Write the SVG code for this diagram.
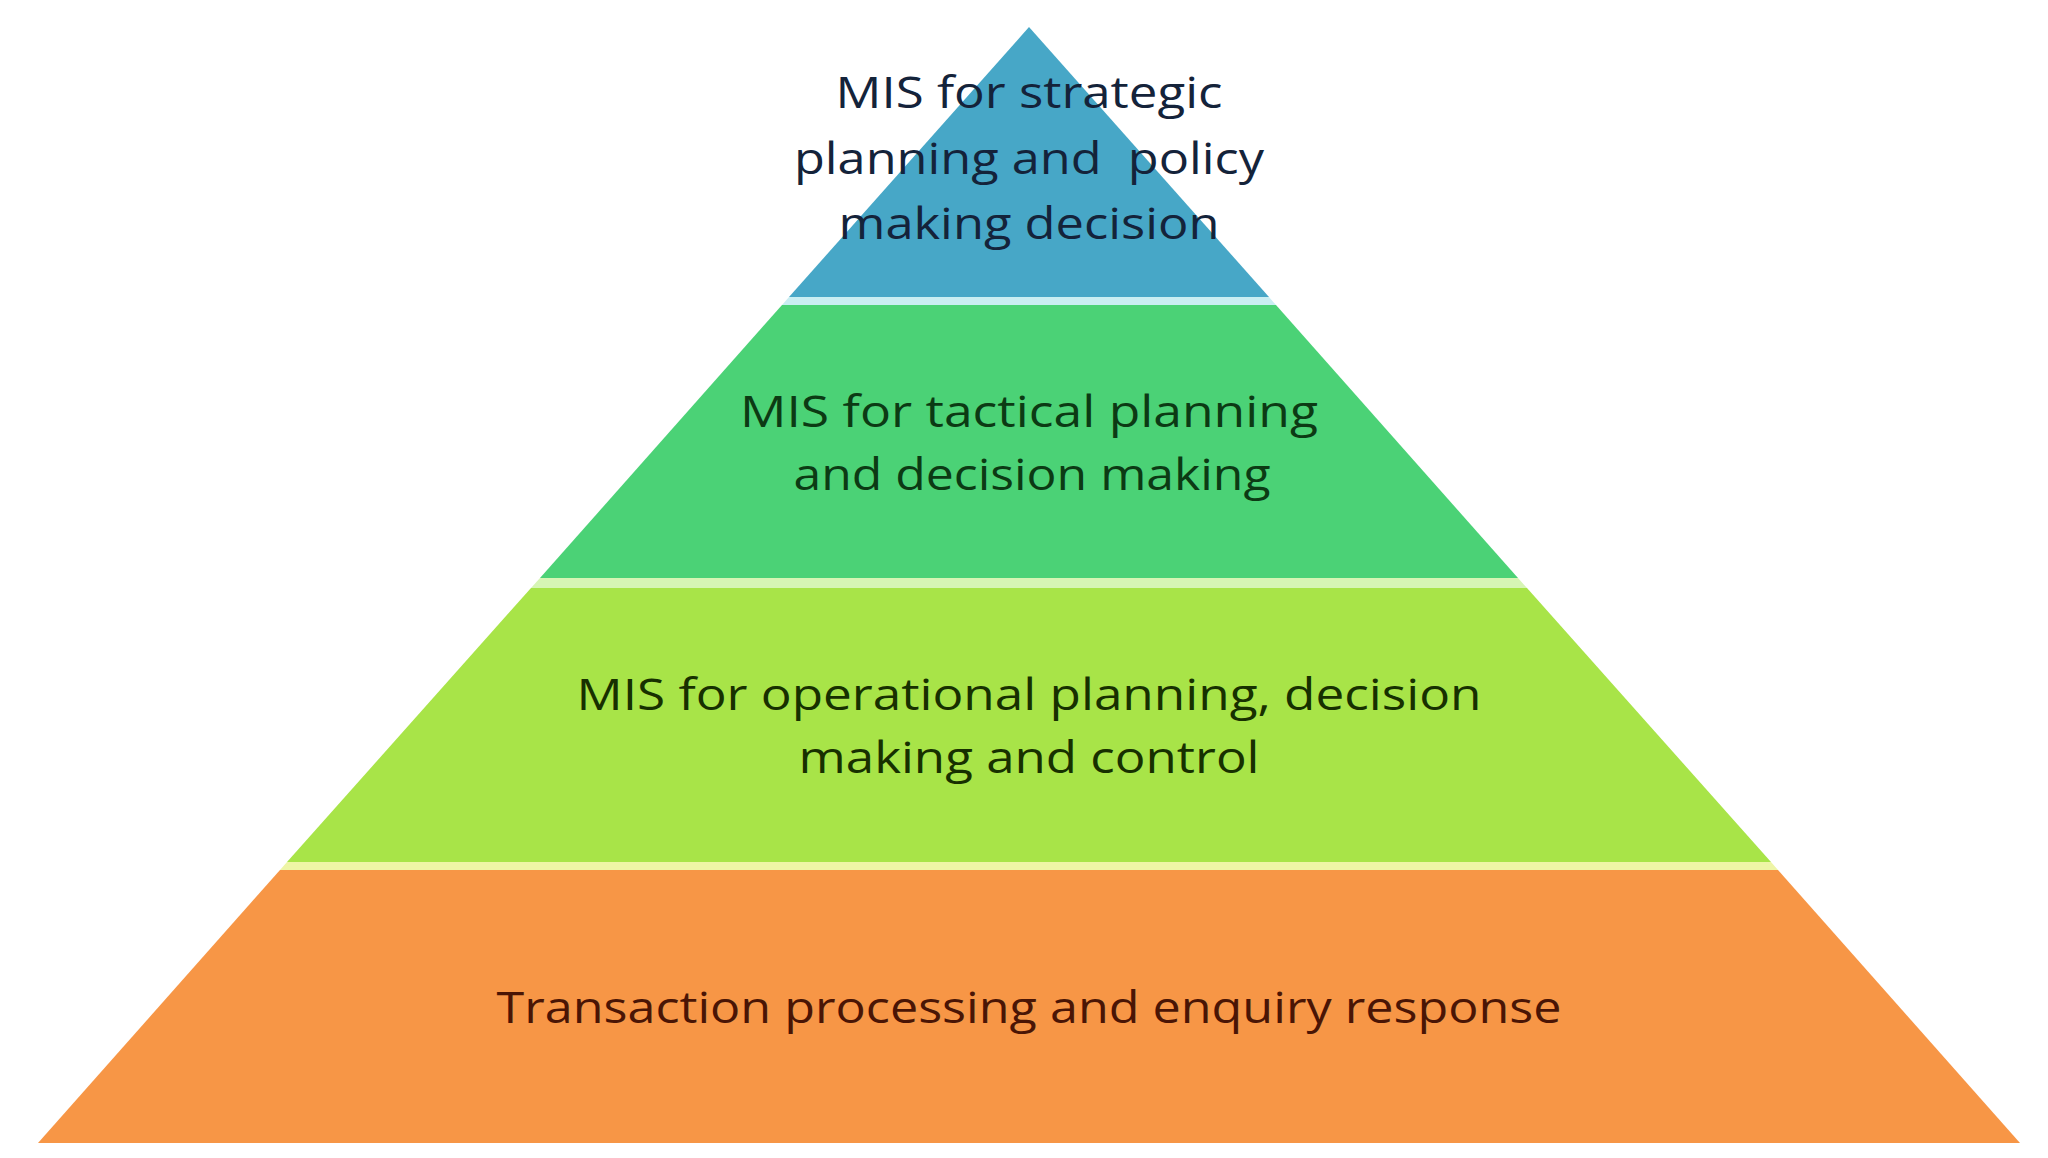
<svg xmlns="http://www.w3.org/2000/svg" width="2048" height="1158" viewBox="0 0 2048 1158">
<style>
.t{font-family:"Open Sans","Liberation Sans",sans-serif;font-size:44px;text-anchor:middle}
</style>
<rect width="2048" height="1158" fill="#ffffff"/>
<g id="strips">
<polygon points="789,297 1269,297 1276,305 782,305" fill="#c9eef2"/>
<polygon points="540,578 1518,578 1527,588 531,588" fill="#d6f5b4"/>
<polygon points="287,862 1771,862 1778,870 280,870" fill="#eef5a6"/>
</g>
<g id="tier-strategic">
<polygon points="1029,27 1269,297 789,297" fill="#47a7c7"/>
<text class="t" fill="#14233a" x="1029" y="108" textLength="387" lengthAdjust="spacingAndGlyphs">MIS for strategic</text>
<text class="t" fill="#14233a" x="1029" y="174" textLength="470" lengthAdjust="spacingAndGlyphs" xml:space="preserve">planning and  policy</text>
<text class="t" fill="#14233a" x="1029" y="239" textLength="381" lengthAdjust="spacingAndGlyphs">making decision</text>
</g>
<g id="tier-tactical">
<polygon points="782,305 1276,305 1518,578 540,578" fill="#4bd276"/>
<text class="t" fill="#0c3a14" x="1029" y="427" textLength="578" lengthAdjust="spacingAndGlyphs">MIS for tactical planning</text>
<text class="t" fill="#0c3a14" x="1032" y="490" textLength="477" lengthAdjust="spacingAndGlyphs">and decision making</text>
</g>
<g id="tier-operational">
<polygon points="531,588 1527,588 1771,862 287,862" fill="#a8e448"/>
<text class="t" fill="#173000" x="1029" y="710" textLength="905" lengthAdjust="spacingAndGlyphs">MIS for operational planning, decision</text>
<text class="t" fill="#173000" x="1029" y="773" textLength="461" lengthAdjust="spacingAndGlyphs">making and control</text>
</g>
<g id="tier-transaction">
<polygon points="280,870 1778,870 2020,1143 38,1143" fill="#f79646"/>
<text class="t" fill="#4a1505" x="1029" y="1023" textLength="1065" lengthAdjust="spacingAndGlyphs">Transaction processing and enquiry response</text>
</g>
<g id="connectors"/>
</svg>
